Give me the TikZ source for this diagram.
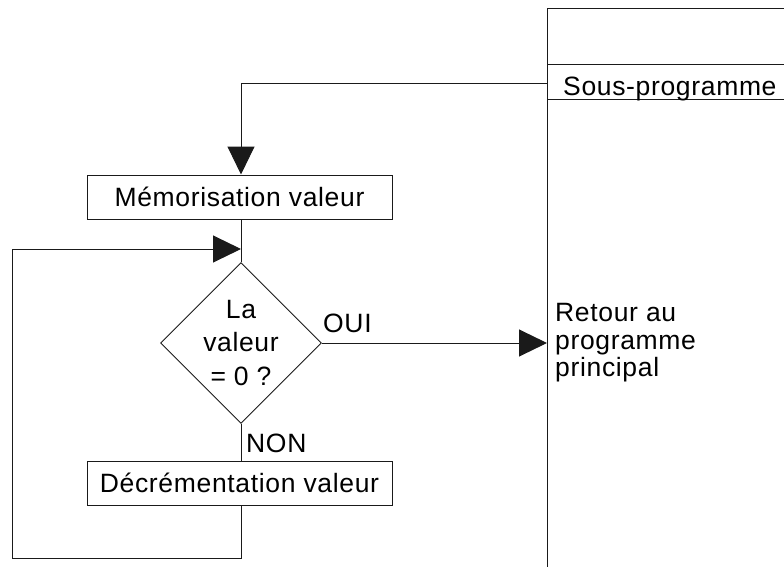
\documentclass[tikz,border=0pt]{standalone}
\usepackage{fontspec}
\newfontfamily\lblfont{Liberation Sans}[LetterSpace=2.5]
\usetikzlibrary{arrows.meta,positioning,shapes.geometric}
\definecolor{ink}{HTML}{1A1A1A}
\newcommand\lbl{\lblfont\fontsize{26.5}{28}\selectfont}
\tikzset{
  box/.style={draw=ink, line width=1pt, minimum width=305pt, minimum height=44pt,
              inner sep=0pt, font=\lbl},
  test/.style={draw=ink, line width=1pt, shape=diamond, minimum width=159pt,
               minimum height=159pt, inner sep=0pt, align=center,
               font=\lblfont\fontsize{26.5}{33.5}\selectfont},
  flow/.style={-{Triangle[length=28pt,width=27pt]}, line width=1pt, ink},
  link/.style={line width=1pt, ink},
  tag/.style={font=\lbl, inner sep=0pt},
}
\begin{document}
\begin{tikzpicture}[x=1pt, y=-1pt]
        \useasboundingbox (0,0) rectangle (784,567);
        % colonne du sous-programme
        \draw[link] (547,567) -- (547,9) -- (784,9);
        \draw[link] (547,65) -- (784,65);
        \draw[link] (547,100) -- (784,100);
        \node[tag, anchor=base west] (sous) at (563,96) {Sous-programme};
        \coordinate (call) at (547,84);
        % organigramme
        \node[box] (mem) at (239.5,197) {Mémorisation valeur};
        \node[test] (q) at (241,343) {La\\valeur\\= 0 ?};
        \node[box] (dec) at (239.5,483) {Décrémentation valeur};
        \node[tag, anchor=west, align=left, inner xsep=8pt, font=\lblfont\fontsize{26.5}{27.5}\selectfont]
          (ret) at (547,343) {Retour au\\programme\\principal};
        \node[tag, anchor=base west] (oui) at (323,332) {OUI};
        \node[tag, anchor=base west] (non) at (246,452) {NON};
        \coordinate (join) at (241,249);
        \coordinate (back) at (12,558);
        \draw[flow] (call) -| (mem.north -| q.north);
        \draw[link] (mem.south -| q.north) -- (q.north);
        \draw[flow] (q.east) -- (ret.west);
        \draw[link] (q.south) -- (dec.north -| q.south);
        \draw[flow] (dec.south -| q.south) |- (back) |- (join);
      \end{tikzpicture}
\end{document}
